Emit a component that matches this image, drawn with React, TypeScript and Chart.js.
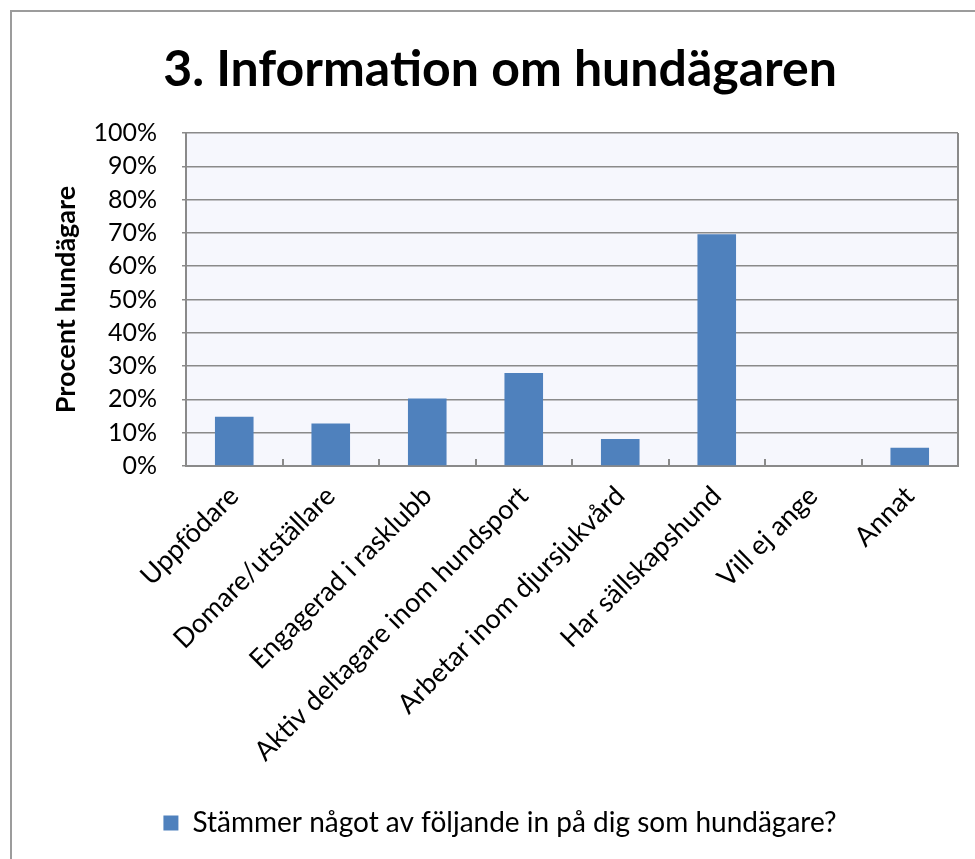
import { useEffect, useRef } from "react";
import { Chart, registerables } from "chart.js";

Chart.register(...registerables);

const chartTitle = "3. Information om hundägaren";
const yAxisTitle = "Procent hundägare";
const seriesLabel = "Stämmer något av följande in på dig som hundägare?";
const categories = [
  "Uppfödare",
  "Domare/utställare",
  "Engagerad i rasklubb",
  "Aktiv deltagare inom hundsport",
  "Arbetar inom djursjukvård",
  "Har sällskapshund",
  "Vill ej ange",
  "Annat",
];
const values = [14.8, 12.8, 20.3, 27.9, 8.1, 69.6, 0, 5.5];
const yMin = 0;
const yMax = 100;
const yStep = 10;

const FONT = "Lato, 'Open Sans', sans-serif";
const GRID = "#8a8a8a";

const decorPlugin = {
  id: "decor",
  beforeDraw(chart: any) {
    const { ctx, chartArea, width, height } = chart;
    ctx.save();
    ctx.strokeStyle = "#9c9c9c";
    ctx.lineWidth = 2;
    ctx.beginPath();
    ctx.moveTo(11, height);
    ctx.lineTo(11, 11);
    ctx.lineTo(width, 11);
    ctx.stroke();
    ctx.fillStyle = "#f6f7fd";
    ctx.fillRect(chartArea.left, chartArea.top, chartArea.right - chartArea.left, chartArea.bottom - chartArea.top);
    ctx.restore();
  },
  afterDatasetsDraw(chart: any) {
    const { ctx, chartArea } = chart;
    const xs = chart.scales.x;
    ctx.save();
    ctx.strokeStyle = GRID;
    ctx.lineWidth = 2;
    ctx.beginPath();
    ctx.moveTo(chartArea.right, chartArea.top);
    ctx.lineTo(chartArea.right, chartArea.bottom);
    ctx.stroke();
    for (let i = 1; i < categories.length; i++) {
      const x = Math.round((xs.getPixelForValue(i - 1) + xs.getPixelForValue(i)) / 2);
      ctx.beginPath();
      ctx.moveTo(x, chartArea.bottom);
      ctx.lineTo(x, chartArea.bottom - 7);
      ctx.stroke();
    }
    ctx.restore();
  },
};

export default function App() {
  const ref = useRef<HTMLCanvasElement>(null);
  useEffect(() => {
    Chart.defaults.font.family = FONT;
    const chart = new Chart(ref.current!, {
      type: "bar",
      data: {
        labels: categories,
        datasets: [
          {
            label: seriesLabel,
            data: values,
            backgroundColor: "#4f81bd",
            borderWidth: 0,
            barPercentage: 0.8,
            categoryPercentage: 0.5,
          },
        ],
      },
      options: {
        responsive: false,
        animation: false,
        layout: { padding: { left: 42, right: 17, top: 10, bottom: 12 } },
        plugins: {
          title: {
            display: true,
            text: chartTitle,
            color: "#000",
            font: { family: FONT, size: 50, weight: "bold" },
            padding: { top: 30, bottom: 33 },
          },
          legend: {
            position: "bottom",
            labels: {
              color: "#000",
              font: { family: FONT, size: 28 },
              boxWidth: 15,
              boxHeight: 15,
              padding: 8,
            },
          },
          tooltip: { enabled: false },
        },
        scales: {
          x: {
            afterFit: (s: any) => {
              s.height = 335;
            },
            grid: { display: false },
            border: { display: true, color: GRID, width: 2 },
            ticks: {
              color: "#000",
              font: { family: FONT, size: 27 },
              minRotation: 45,
              maxRotation: 45,
              autoSkip: false,
              padding: 6,
            },
          },
          y: {
            min: yMin,
            max: yMax,
            afterFit: (s: any) => {
              s.width = 144;
            },
            grid: { color: GRID, lineWidth: 1.5, tickLength: 4 },
            border: { display: true, color: GRID, width: 2 },
            ticks: {
              stepSize: yStep,
              color: "#000",
              font: { family: FONT, size: 25 },
              padding: 25,
              callback: (v: any) => `${v}%`,
            },
            title: {
              display: true,
              text: yAxisTitle,
              color: "#000",
              font: { family: FONT, size: 27, weight: "bold" },
              padding: { top: 8, bottom: 0 },
            },
          },
        },
      },
      plugins: [decorPlugin],
    });
    return () => chart.destroy();
  }, []);
  return (
    <div style={{ position: "absolute", left: 0, top: 0, width: 975, height: 859, background: "#fff", overflow: "hidden" }}>
      <canvas ref={ref} width={975} height={859} style={{ width: 975, height: 859, display: "block" }} />
    </div>
  );
}
